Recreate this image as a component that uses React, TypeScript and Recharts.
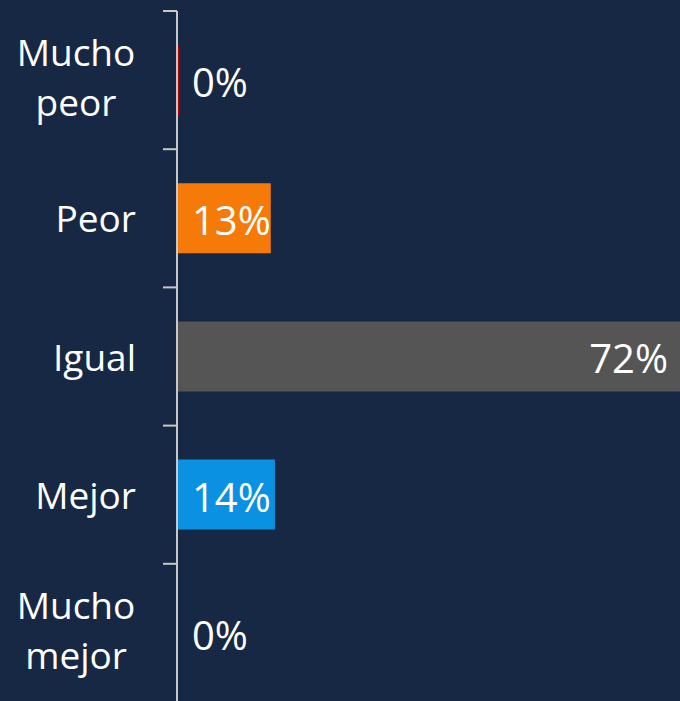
import React from 'react';
import { BarChart, Bar, XAxis, YAxis, Cell, LabelList } from 'recharts';

const CATEGORIES = ['Mucho peor', 'Peor', 'Igual', 'Mejor', 'Mucho mejor'];
const CATEGORY_LINES: Record<string, string[]> = {
  'Mucho peor': ['Mucho', 'peor'],
  'Peor': ['Peor'],
  'Igual': ['Igual'],
  'Mejor': ['Mejor'],
  'Mucho mejor': ['Mucho', 'mejor'],
};
const VALUES = [0.3, 13.4, 72.3, 14.0, 0];
const VALUE_LABELS = ['0%', '13%', '72%', '14%', '0%'];
const COLORS = ['#c00000', '#f57a08', '#555555', '#0a91e2', '#00b050'];

const data = CATEGORIES.map((name, i) => ({ name, value: VALUES[i], label: VALUE_LABELS[i] }));

const BG = '#172845';
const AXIS = '#c8c8c8';
const FONT = '"Open Sans", sans-serif';
const CHART_H = 712;
const MARGIN = { top: 11, right: 0, bottom: 10, left: 0 };
const BAND = (CHART_H - MARGIN.top - MARGIN.bottom) / CATEGORIES.length;

const CategoryTick = (props: any) => {
  const { x, y, payload, index } = props;
  const lines = CATEGORY_LINES[payload.value] || [String(payload.value)];
  const last = index === CATEGORIES.length - 1;
  return (
    <g>
      <line x1={x - 14} x2={x} y1={y - BAND / 2} y2={y - BAND / 2} stroke={AXIS} strokeWidth={2} />
      {last && <line x1={x - 14} x2={x} y1={y + BAND / 2} y2={y + BAND / 2} stroke={AXIS} strokeWidth={2} />}
      {lines.length === 1 ? (
        <text x={x - 41} y={y + 14} textAnchor="end" fill="#ffffff" fontSize={37} fontFamily={FONT}>
          {lines[0]}
        </text>
      ) : (
        lines.map((l, i) => (
          <text key={i} x={x - 101} y={y - 14 + i * 50} textAnchor="middle" fill="#ffffff" fontSize={37} fontFamily={FONT}>
            {l}
          </text>
        ))
      )}
    </g>
  );
};

const ValueLabel = (props: any) => {
  const { x, y, width, height, index } = props;
  const big = width > 200;
  return (
    <text
      x={big ? x + width - 15 : x + 15}
      y={y + height / 2 + 17}
      textAnchor={big ? 'end' : 'start'}
      fill="#ffffff"
      fontSize={40}
      fontFamily={FONT}
    >
      {VALUE_LABELS[index]}
    </text>
  );
};

export default function App() {
  return (
    <div style={{ position: 'absolute', left: 0, top: 0, width: 680, height: 701, overflow: 'hidden', background: BG }}>
      <BarChart width={690} height={CHART_H} data={data} layout="vertical" margin={MARGIN} barCategoryGap={0}>
        <XAxis type="number" domain={[0, 73.3]} hide />
        <YAxis
          type="category"
          dataKey="name"
          width={177}
          interval={0}
          tickSize={0}
          tickMargin={0}
          tickLine={false}
          axisLine={{ stroke: AXIS, strokeWidth: 2 }}
          tick={<CategoryTick />}
        />
        <Bar dataKey="value" barSize={70} minPointSize={0.01} isAnimationActive={false}>
          {data.map((d, i) => (
            <Cell key={i} fill={COLORS[i]} />
          ))}
          <LabelList dataKey="label" content={<ValueLabel />} />
        </Bar>
      </BarChart>
    </div>
  );
}
